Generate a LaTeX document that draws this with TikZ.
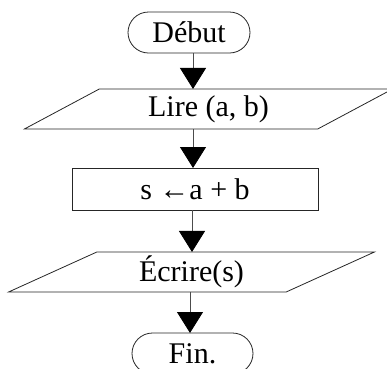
\documentclass[tikz,border=0pt]{standalone}
\usepackage{fontspec}
\setmainfont{Liberation Serif}
\usetikzlibrary{shapes.misc,shapes.geometric,arrows.meta}
\begin{document}
\begin{tikzpicture}[x=1bp,y=-1bp,
  every node/.style={font=\fontsize{30bp}{34bp}\selectfont, inner sep=0pt, outer sep=0pt},
  term/.style={rounded rectangle, draw=black!85, line width=0.8bp, minimum width=122bp, minimum height=41bp},
  io/.style={trapezium, trapezium left angle=33.3, trapezium right angle=146.7, trapezium stretches=true, draw=black!85, line width=0.8bp, minimum height=40bp},
  proc/.style={rectangle, draw=black!85, line width=0.8bp, minimum width=246bp, minimum height=42bp},
  arr/.style={draw=black!70, line width=0.8bp, -{Triangle[width=26bp,length=21bp,fill=black,color=black]}}
]
\useasboundingbox (0,0) rectangle (387,369);
\node[term] (debut) at (189,32.5) {Début};
\node[io, minimum width=369bp] (lire) at (208.5,109) {Lire (a, b)};
\node[proc] (calc) at (195,189) {s ←a + b};
\node[io, minimum width=367bp] (ecrire) at (191.5,272) {Écrire(s)};
\node[term, minimum width=121bp] (fin) at (192.5,353.5) {Fin.};
\coordinate (c1) at (193,0);
\coordinate (c3) at (192,0);
\coordinate (c4) at (190,0);
\draw[arr] (debut.south -| c1) -- (lire.north -| c1);
\draw[arr] (lire.south -| c1) -- (calc.north -| c1);
\draw[arr] (calc.south -| c3) -- (ecrire.north -| c3);
\draw[arr] (ecrire.south -| c4) -- (fin.north -| c4);
\end{tikzpicture}
\end{document}
